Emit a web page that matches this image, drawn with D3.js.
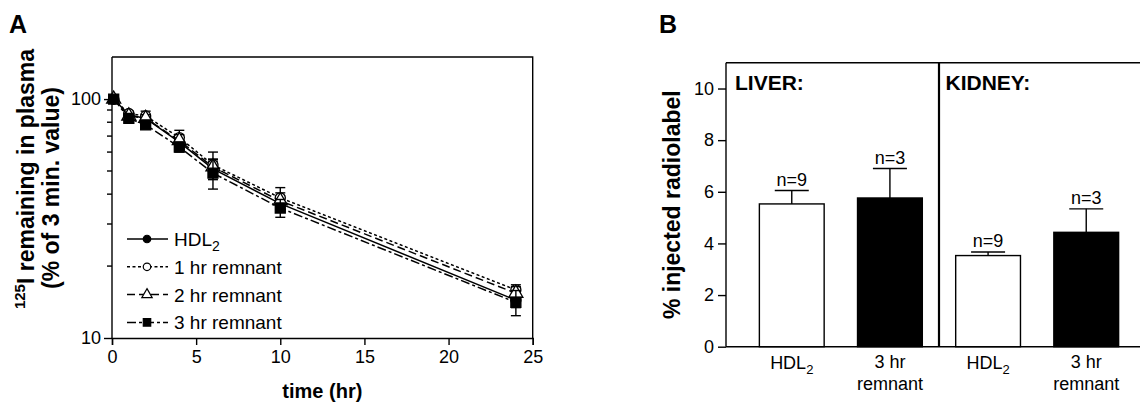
<!DOCTYPE html>
<html>
<head>
<meta charset="utf-8">
<script src="https://cdn.jsdelivr.net/npm/d3@7/dist/d3.min.js"></script>
<style>
  body { margin: 0; background: #fff; }
  text { font-family: "Liberation Sans", Arial, sans-serif; fill: #000; }
</style>
</head>
<body>
<div id="chart"></div>
<script>
// ---- panel A data: plasma decay, % of 3 min value ----
const times = [0.1, 1, 2, 4, 6, 10, 24];
const seriesNames = ["HDL2", "1 hr remnant", "2 hr remnant", "3 hr remnant"];
const hdl2Values = [100, 86, 83, 66, 51, 36.5, 14.4];
const hr1Values = [100, 87, 85, 69, 53, 38.6, 15.9];
const hr2Values = [100, 85, 83, 67, 52, 37.5, 15.4];
const hr3Values = [100, 83, 78, 63, 49, 35, 14.1];
const hdl2Err = [0, 2, 2, 3, 4, 2, 1];
const hr1Err = [0, 2, 4, 5, 7, 4, 0.8];
const hr2Err = [0, 2, 3, 4, 4, 3, 1];
const hr3Err = [0, 3, 3, 3, 7, 3, 1.7];
const timeTicks = [0, 5, 10, 15, 20, 25];
const plasmaTicks = [10, 100];
const plasmaMinorTicks = [20, 30, 40, 50, 60, 70, 80, 90];

// ---- panel B data: % injected radiolabel ----
const organs = ["LIVER:", "KIDNEY:"];
const barKinds = ["HDL2", "3 hr remnant"];
const liverMeans = [5.53, 5.76];
const liverErr = [0.52, 1.14];
const kidneyMeans = [3.53, 4.43];
const kidneyErr = [0.14, 0.91];
const liverN = [9, 3];
const kidneyN = [9, 3];
const pctTicks = [0, 2, 4, 6, 8, 10];

const w = 1140;
const h = 404;
const svg = d3
  .select("#chart")
  .append("svg")
  .attr("width", w)
  .attr("height", h);

// ================= panel A =================
const ax = { left: 112, right: 532.7, top: 57, bottom: 338 };
const xScale = d3.scaleLinear().domain([0, 25]).range([ax.left, ax.right]);
const yScale = d3.scaleLog().domain([10, 150]).range([ax.bottom, ax.top]);

const series = [
  { name: seriesNames[0], values: hdl2Values, err: hdl2Err, dash: null, marker: "circleFilled" },
  { name: seriesNames[1], values: hr1Values, err: hr1Err, dash: "3,2.5", marker: "circleOpen" },
  { name: seriesNames[2], values: hr2Values, err: hr2Err, dash: "8,4", marker: "triangle" },
  { name: seriesNames[3], values: hr3Values, err: hr3Err, dash: "9,3,3,3", marker: "square" },
];

const gA = svg.append("g");

// frame
gA.append("path")
  .attr("d", `M${ax.left},${ax.top}H${ax.right}V${ax.bottom}`)
  .attr("fill", "none")
  .attr("stroke", "#000")
  .attr("stroke-width", 1.4);

// x axis
const xAxis = d3.axisBottom(xScale).tickValues(timeTicks).tickSize(7).tickPadding(5);
gA.append("g")
  .attr("transform", `translate(0,${ax.bottom})`)
  .call(xAxis)
  .call((g) => g.select(".domain").attr("stroke-width", 1.4))
  .call((g) => g.selectAll(".tick line").attr("stroke-width", 1.4))
  .call((g) => g.selectAll("text").attr("font-size", 18).attr("font-family", "Liberation Sans, Arial, sans-serif"));

// y axis (log)
const yAxis = d3.axisLeft(yScale).tickValues(plasmaTicks).tickFormat(d3.format("d")).tickSize(8).tickPadding(3);
gA.append("g")
  .attr("transform", `translate(${ax.left},0)`)
  .call(yAxis)
  .call((g) => g.select(".domain").attr("d", `M0,${ax.top}V${ax.bottom}`).attr("stroke-width", 1.4))
  .call((g) => g.selectAll(".tick line").attr("stroke-width", 1.4))
  .call((g) => g.selectAll("text").attr("font-size", 18).attr("font-family", "Liberation Sans, Arial, sans-serif"));
gA.append("g")
  .selectAll("line")
  .data(plasmaMinorTicks)
  .enter()
  .append("line")
  .attr("x1", ax.left - 5)
  .attr("x2", ax.left)
  .attr("y1", (d) => yScale(d))
  .attr("y2", (d) => yScale(d))
  .attr("stroke", "#000")
  .attr("stroke-width", 1.4);

const markerPath = (kind, size) => {
  if (kind === "triangle") return d3.symbol(d3.symbolTriangle, size * 0.85)();
  if (kind === "square") return d3.symbol(d3.symbolSquare, size)();
  return d3.symbol(d3.symbolCircle, size * 0.8)();
};
const markerFill = (kind) => (kind === "circleOpen" || kind === "triangle" ? "#fff" : "#000");

const line = d3
  .line()
  .x((d) => xScale(d.t))
  .y((d) => yScale(d.v));

series.forEach((s) => {
  const pts = times.map((t, i) => ({ t: t, v: s.values[i], e: s.err[i] }));
  const g = gA.append("g");
  g.append("path")
    .datum(pts)
    .attr("d", line)
    .attr("fill", "none")
    .attr("stroke", "#000")
    .attr("stroke-width", 1.5)
    .attr("stroke-dasharray", s.dash);
  const eb = g
    .selectAll(".err")
    .data(pts.filter((d) => d.e > 0))
    .enter()
    .append("g")
    .attr("stroke", "#000")
    .attr("stroke-width", 1.4);
  eb.append("line")
    .attr("x1", (d) => xScale(d.t))
    .attr("x2", (d) => xScale(d.t))
    .attr("y1", (d) => yScale(d.v + d.e))
    .attr("y2", (d) => yScale(d.v - d.e));
  [1, -1].forEach((sign) => {
    eb.append("line")
      .attr("x1", (d) => xScale(d.t) - 5)
      .attr("x2", (d) => xScale(d.t) + 5)
      .attr("y1", (d) => yScale(d.v + sign * d.e))
      .attr("y2", (d) => yScale(d.v + sign * d.e));
  });
  g.selectAll(".mk")
    .data(pts)
    .enter()
    .append("path")
    .attr("d", markerPath(s.marker, 100))
    .attr("transform", (d) => `translate(${xScale(d.t)},${yScale(d.v)})`)
    .attr("fill", markerFill(s.marker))
    .attr("stroke", "#000")
    .attr("stroke-width", 1.3);
});

// legend
const legend = gA
  .selectAll(".legend")
  .data(series)
  .enter()
  .append("g")
  .attr("transform", (d, i) => `translate(127,${239 + i * 27.8})`);
legend.append("line")
  .attr("x1", 0)
  .attr("x2", 41)
  .attr("stroke", "#000")
  .attr("stroke-width", 1.5)
  .attr("stroke-dasharray", (d) => d.dash);
legend.append("path")
  .attr("d", (d) => markerPath(d.marker, 55))
  .attr("transform", "translate(20,0)")
  .attr("fill", (d) => markerFill(d.marker))
  .attr("stroke", "#000")
  .attr("stroke-width", 1.2);
legend.each(function (d) {
  const t = d3.select(this).append("text").attr("x", 47).attr("y", 7).attr("font-size", 19);
  if (d.name === "HDL2") {
    t.append("tspan").text("HDL");
    t.append("tspan").attr("font-size", 14).attr("dy", 5).text("2");
  } else {
    t.text(d.name);
  }
});

// titles
gA.append("text")
  .attr("x", (ax.left + ax.right) / 2)
  .attr("y", 398)
  .attr("text-anchor", "middle")
  .attr("font-size", 20)
  .attr("font-weight", "bold")
  .text("time (hr)");
const yt1 = gA.append("text")
  .attr("transform", "translate(34,179) rotate(-90)")
  .attr("text-anchor", "middle")
  .attr("font-size", 23)
  .attr("font-weight", "bold");
yt1.append("tspan").attr("font-size", 15).attr("dy", -9).text("125");
yt1.append("tspan").attr("dy", 9).text("I remaining in plasma");
gA.append("text")
  .attr("transform", "translate(59,188) rotate(-90)")
  .attr("text-anchor", "middle")
  .attr("font-size", 23)
  .attr("font-weight", "bold")
  .text("(% of 3 min. value)");
gA.append("text")
  .attr("x", 9)
  .attr("y", 33)
  .attr("font-size", 25)
  .attr("font-weight", "bold")
  .text("A");

// ================= panel B =================
const bx = { left: 726, right: 1152, top: 62.7, bottom: 346.7 };
const bars = [];
organs.forEach((organ, oi) => {
  const means = oi === 0 ? liverMeans : kidneyMeans;
  const errs = oi === 0 ? liverErr : kidneyErr;
  const ns = oi === 0 ? liverN : kidneyN;
  barKinds.forEach((kind, ki) => {
    bars.push({ key: organ + kind, organ: organ, kind: kind, mean: means[ki], err: errs[ki], n: ns[ki] });
  });
});

const bxScale = d3
  .scaleBand()
  .domain(bars.map((d) => d.key))
  .range([bx.left, bx.right])
  .paddingInner(0.34)
  .paddingOuter(0.34);
const byScale = d3.scaleLinear().domain([0, 11]).range([bx.bottom, bx.top]);

const gB = svg.append("g");

const byAxis = d3.axisLeft(byScale).tickValues(pctTicks).tickSize(8).tickPadding(4);
gB.append("g")
  .attr("transform", `translate(${bx.left},0)`)
  .call(byAxis)
  .call((g) => g.select(".domain").attr("d", `M0,${bx.top}V${bx.bottom}`).attr("stroke-width", 1.4))
  .call((g) => g.selectAll(".tick line").attr("stroke-width", 1.4))
  .call((g) => g.selectAll("text").attr("font-size", 18).attr("font-family", "Liberation Sans, Arial, sans-serif"));

gB.append("path")
  .attr("d", `M${bx.left},${bx.top}H${bx.right}M${bx.left},${bx.bottom}H${bx.right}`)
  .attr("stroke", "#000")
  .attr("stroke-width", 1.4);

// separator between organs
const sepX = (bxScale(bars[1].key) + bxScale.bandwidth() + bxScale(bars[2].key)) / 2;
gB.append("line")
  .attr("x1", sepX)
  .attr("x2", sepX)
  .attr("y1", bx.top)
  .attr("y2", bx.bottom)
  .attr("stroke", "#000")
  .attr("stroke-width", 2.2);

const barG = gB
  .selectAll(".bar")
  .data(bars)
  .enter()
  .append("g");
barG.append("line")
  .attr("x1", (d) => bxScale(d.key) + bxScale.bandwidth() / 2)
  .attr("x2", (d) => bxScale(d.key) + bxScale.bandwidth() / 2)
  .attr("y1", (d) => byScale(d.mean))
  .attr("y2", (d) => byScale(d.mean + d.err))
  .attr("stroke", "#000")
  .attr("stroke-width", 1.4);
barG.append("line")
  .attr("x1", (d) => bxScale(d.key) + bxScale.bandwidth() / 2 - 17)
  .attr("x2", (d) => bxScale(d.key) + bxScale.bandwidth() / 2 + 17)
  .attr("y1", (d) => byScale(d.mean + d.err))
  .attr("y2", (d) => byScale(d.mean + d.err))
  .attr("stroke", "#000")
  .attr("stroke-width", 1.4);
barG.append("rect")
  .attr("x", (d) => bxScale(d.key))
  .attr("y", (d) => byScale(d.mean))
  .attr("width", bxScale.bandwidth())
  .attr("height", (d) => bx.bottom - byScale(d.mean))
  .attr("fill", (d) => (d.kind === "HDL2" ? "#fff" : "#000"))
  .attr("stroke", "#000")
  .attr("stroke-width", 1.4);
barG.append("text")
  .attr("x", (d) => bxScale(d.key) + bxScale.bandwidth() / 2)
  .attr("y", (d) => byScale(d.mean + d.err) - 4.5)
  .attr("text-anchor", "middle")
  .attr("font-size", 18)
  .text((d) => `n=${d.n}`);

// category labels
barG.each(function (d) {
  const cx = bxScale(d.key) + bxScale.bandwidth() / 2;
  const g = d3.select(this);
  if (d.kind === "HDL2") {
    const t = g.append("text").attr("x", cx).attr("y", 369).attr("text-anchor", "middle").attr("font-size", 18);
    t.append("tspan").text("HDL");
    t.append("tspan").attr("font-size", 13).attr("dy", 5).text("2");
  } else {
    g.append("text").attr("x", cx).attr("y", 368).attr("text-anchor", "middle").attr("font-size", 18).text("3 hr");
    g.append("text").attr("x", cx).attr("y", 390).attr("text-anchor", "middle").attr("font-size", 18).text("remnant");
  }
});

// organ headers
gB.selectAll(".organ")
  .data(organs)
  .enter()
  .append("text")
  .attr("x", (d, i) => (i === 0 ? bx.left + 9 : sepX + 6.5))
  .attr("y", 90)
  .attr("font-size", 21)
  .attr("font-weight", "bold")
  .text((d) => d);

gB.append("text")
  .attr("transform", `translate(680,${(bx.top + bx.bottom) / 2}) rotate(-90)`)
  .attr("text-anchor", "middle")
  .attr("font-size", 23)
  .attr("font-weight", "bold")
  .text("% injected radiolabel");
gB.append("text")
  .attr("x", 659)
  .attr("y", 33)
  .attr("font-size", 25)
  .attr("font-weight", "bold")
  .text("B");
</script>
</body>
</html>
